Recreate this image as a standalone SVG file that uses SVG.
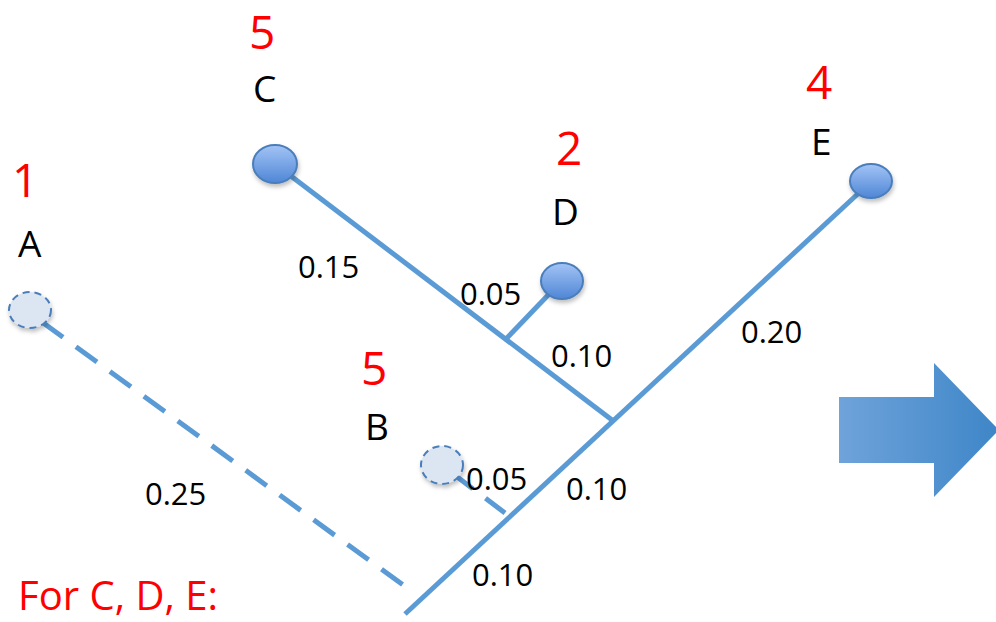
<svg xmlns="http://www.w3.org/2000/svg" width="996" height="622" viewBox="0 0 996 622">
<defs>
<linearGradient id="nodeGrad" x1="0" y1="0" x2="0" y2="1">
<stop offset="0" stop-color="#a3c4f5"/>
<stop offset="1" stop-color="#4f86d6"/>
</linearGradient>
<linearGradient id="arrowGrad" x1="0" y1="0" x2="1" y2="0">
<stop offset="0" stop-color="#6fa3da"/>
<stop offset="1" stop-color="#3e86c8"/>
</linearGradient>
<filter id="sh" x="-50%" y="-50%" width="200%" height="200%">
<feDropShadow dx="1" dy="3" stdDeviation="2" flood-color="#000" flood-opacity="0.25"/>
</filter>
</defs>
<style>
.edge{stroke:#5b9bd5;stroke-width:5;fill:none;stroke-linecap:butt}
.dash{stroke-dasharray:26 16}
.node{fill:url(#nodeGrad);stroke:#4a7ebb;stroke-width:2;filter:url(#sh)}
.ghost{fill:#dce6f2;stroke:#4a7ebb;stroke-width:2;stroke-dasharray:7 5;filter:url(#sh)}
text{font-family:"Open Sans","Liberation Sans",sans-serif}
.num{fill:#ff0000;font-size:46px}
.lab{fill:#000;font-size:37px}
.len{fill:#000;font-size:31px}
.note{fill:#ff0000;font-size:40px}
</style>
<rect width="996" height="622" fill="#fff"/>
<g id="connectors">
<line class="edge" x1="405" y1="614" x2="862" y2="190"/>
<line class="edge" x1="283" y1="170" x2="612" y2="420"/>
<line class="edge" x1="506" y1="339" x2="552" y2="291"/>
<line class="edge dash" x1="452" y1="473" x2="505" y2="513"/>
<line class="edge dash" x1="42" y1="322" x2="410" y2="590"/>
</g>
<g id="node-C"><ellipse class="node" cx="275" cy="164" rx="22" ry="19"/><text class="num" x="249" y="49">5</text><text class="lab" x="253" y="102">C</text></g>
<g id="node-D"><ellipse class="node" cx="562" cy="281" rx="21" ry="18"/><text class="num" x="556" y="165">2</text><text class="lab" x="552" y="225">D</text></g>
<g id="node-E"><ellipse class="node" cx="871" cy="181" rx="21" ry="17"/><text class="num" x="806" y="99">4</text><text class="lab" x="811" y="155">E</text></g>
<g id="node-A"><ellipse class="ghost" cx="30" cy="310" rx="21" ry="18"/><text class="num" x="12" y="197">1</text><text class="lab" x="18" y="257">A</text></g>
<g id="node-B"><ellipse class="ghost" cx="442" cy="465" rx="21" ry="19"/><text class="num" x="361" y="385">5</text><text class="lab" x="365" y="440">B</text></g>
<g id="labels">
<text class="len" x="298" y="278">0.15</text>
<text class="len" x="460" y="305">0.05</text>
<text class="len" x="551" y="367">0.10</text>
<text class="len" x="741" y="343">0.20</text>
<text class="len" x="145" y="505">0.25</text>
<text class="len" x="466" y="490">0.05</text>
<text class="len" x="566" y="500">0.10</text>
<text class="len" x="472" y="586">0.10</text>
<text class="note" x="18" y="610">For C, D, E:</text>
</g>
<g id="arrow"><path d="M839 397 H934 V363 L999 430 L934 497 V463 H839 Z" fill="url(#arrowGrad)"/></g>
</svg>
